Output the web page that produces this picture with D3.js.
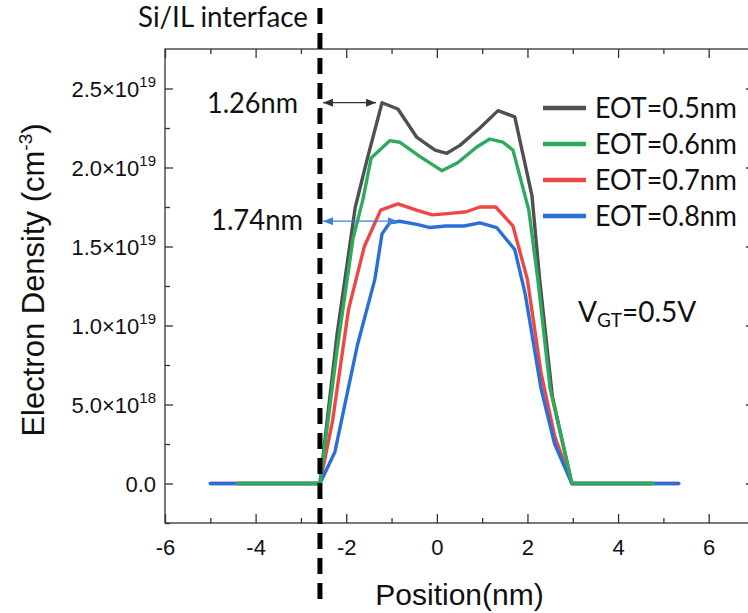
<!DOCTYPE html>
<html>
<head>
<meta charset="utf-8">
<script src="https://cdn.jsdelivr.net/npm/d3@7"></script>
<style>
  html, body { margin: 0; padding: 0; background: #fff; }
  svg { display: block; }
</style>
</head>
<body>
<svg id="chart" width="748" height="613"></svg>
<script>
// ---- data: electron density profile across the channel (position nm, density cm^-3)
const seriesNames  = ["EOT=0.5nm", "EOT=0.6nm", "EOT=0.7nm", "EOT=0.8nm"];
const seriesColors = ["#505050", "#2eaa5c", "#ef4646", "#2a6fd8"];

const eot05 = [[-4.4,0],[-2.58,0],[-2.2,0.95e19],[-1.8,1.75e19],[-1.54,2.05e19],[-1.21,2.41e19],
  [-0.86,2.37e19],[-0.44,2.19e19],[-0.04,2.11e19],[0.22,2.09e19],[0.51,2.14e19],[0.95,2.25e19],
  [1.35,2.36e19],[1.72,2.32e19],[2.10,1.82e19],[2.27,1.29e19],[2.55,0.55e19],[2.98,0],[4.77,0]];
const eot06 = [[-4.4,0],[-2.58,0],[-2.2,0.85e19],[-1.85,1.55e19],[-1.63,1.80e19],[-1.45,2.06e19],
  [-1.04,2.17e19],[-0.82,2.16e19],[-0.38,2.07e19],[0.11,1.98e19],[0.46,2.03e19],[0.88,2.13e19],
  [1.17,2.18e19],[1.46,2.16e19],[1.68,2.11e19],[2.03,1.73e19],[2.23,1.29e19],[2.5,0.6e19],[2.98,0],[4.77,0]];
const eot07 = [[-5.0,0],[-2.58,0],[-2.3,0.4e19],[-1.95,1.1e19],[-1.6,1.5e19],[-1.24,1.73e19],
  [-0.86,1.77e19],[-0.45,1.73e19],[-0.1,1.70e19],[0.3,1.71e19],[0.65,1.72e19],[0.95,1.75e19],
  [1.3,1.75e19],[1.68,1.63e19],[2.0,1.29e19],[2.3,0.7e19],[2.6,0.3e19],[2.98,0],[5.34,0]];
const eot08 = [[-5.0,0],[-2.58,0],[-2.25,0.2e19],[-1.75,0.88e19],[-1.37,1.29e19],[-1.21,1.58e19],
  [-1.04,1.65e19],[-0.82,1.66e19],[-0.44,1.64e19],[-0.15,1.62e19],[0.2,1.63e19],[0.6,1.63e19],
  [0.95,1.65e19],[1.32,1.62e19],[1.72,1.48e19],[1.95,1.2e19],[2.3,0.6e19],[2.6,0.25e19],[2.98,0],[5.34,0]];
const seriesData = [eot05, eot06, eot07, eot08];
const drawOrder = [0, 2, 3, 1];

// axis ticks
const xMajor = [-6, -4, -2, 0, 2, 4, 6];
const xMinor = [-5, -3, -1, 1, 3, 5, 7];
const yMajor = [0, 5e18, 1e19, 1.5e19, 2e19, 2.5e19];
const yMinor = [-2.5e18, 2.5e18, 7.5e18, 1.25e19, 1.75e19, 2.25e19];
const yTickMant = ["0.0", "5.0", "1.0", "1.5", "2.0", "2.5"];
const yTickExp  = [null, "18", "19", "19", "19", "19"];

// annotations
const interfacePos = -2.58;
const peakShift05 = 1.26, peakDens05 = 2.41e19;
const peakShift08 = 1.74, peakDens08 = 1.66e19;

// ---- drawing
const ARIAL = "'Liberation Sans', Arial, sans-serif";
const CALI  = "Lato, 'Open Sans', sans-serif";
const svg = d3.select("#chart");
const X0 = 165, X1 = 754, Y0 = 49, Y1 = 523;

const x = d3.scaleLinear().domain([-6, 7]).range([X0, X1]);
const y = d3.scaleLinear().domain([-2.5e18, 2.75e19]).range([Y1, Y0]);

const axisColor = "#333";
function styleAxis(g) {
  g.select(".domain").remove();
  g.selectAll(".tick line").attr("stroke", axisColor).attr("stroke-width", 1.3);
}

// bottom axis with labels
svg.append("g").attr("transform", `translate(0,${Y1})`)
  .call(d3.axisBottom(x).tickValues(xMajor).tickSize(-9).tickPadding(16).tickFormat(d => String(d)))
  .call(styleAxis)
  .call(g => g.selectAll("text").attr("font-family", ARIAL).attr("font-size", 22).attr("fill", "#111"));
svg.append("g").attr("transform", `translate(0,${Y1})`)
  .call(d3.axisBottom(x).tickValues(xMinor).tickSize(-5).tickFormat(""))
  .call(styleAxis);
// top axis (mirror)
svg.append("g").attr("transform", `translate(0,${Y0})`)
  .call(d3.axisTop(x).tickValues(xMajor).tickSize(-9).tickFormat(""))
  .call(styleAxis);
svg.append("g").attr("transform", `translate(0,${Y0})`)
  .call(d3.axisTop(x).tickValues(xMinor).tickSize(-5).tickFormat(""))
  .call(styleAxis);
// left axis
svg.append("g").attr("transform", `translate(${X0},0)`)
  .call(d3.axisLeft(y).tickValues(yMajor).tickSize(-8).tickFormat(""))
  .call(styleAxis);
svg.append("g").attr("transform", `translate(${X0},0)`)
  .call(d3.axisLeft(y).tickValues(yMinor).tickSize(-5).tickFormat(""))
  .call(styleAxis);
// right axis (mirror)
svg.append("g").attr("transform", `translate(${X1},0)`)
  .call(d3.axisRight(y).tickValues(yMajor).tickSize(-8).tickFormat(""))
  .call(styleAxis);
svg.append("g").attr("transform", `translate(${X1},0)`)
  .call(d3.axisRight(y).tickValues(yMinor).tickSize(-5).tickFormat(""))
  .call(styleAxis);

// y tick labels in a×10^b form
yMajor.forEach((v, i) => {
  const t = svg.append("text")
    .attr("x", X0 - 9).attr("y", y(v) + 8)
    .attr("text-anchor", "end")
    .attr("font-family", ARIAL).attr("font-size", 22).attr("fill", "#111");
  if (yTickExp[i]) {
    t.append("tspan").text(yTickMant[i] + "×10");
    t.append("tspan").attr("font-size", 15).attr("dy", -10).text(yTickExp[i]);
  } else {
    t.text(yTickMant[i]);
  }
});

// frame
svg.append("rect").attr("x", X0).attr("y", Y0)
  .attr("width", X1 - X0).attr("height", Y1 - Y0)
  .attr("fill", "none").attr("stroke", axisColor).attr("stroke-width", 1.3);

// axis titles
svg.append("text")
  .attr("x", (X0 + X1) / 2).attr("y", 605)
  .attr("text-anchor", "middle")
  .attr("font-family", ARIAL).attr("font-size", 30).attr("fill", "#111")
  .text("Position(nm)");

const yTitle = svg.append("text")
  .attr("transform", `translate(44,${(Y0 + Y1) / 2 - 6}) rotate(-90)`)
  .attr("text-anchor", "middle")
  .attr("font-family", ARIAL).attr("font-size", 31).attr("fill", "#111");
yTitle.append("tspan").text("Electron Density (cm");
yTitle.append("tspan").attr("font-size", 19).attr("dy", -12).text("-3");
yTitle.append("tspan").attr("dy", 12).text(")");

// curves
const line = d3.line().x(d => x(d[0])).y(d => y(d[1]));
drawOrder.forEach(i => {
  svg.append("path").datum(seriesData[i])
    .attr("d", line)
    .attr("fill", "none")
    .attr("stroke", seriesColors[i])
    .attr("stroke-width", 3.4)
    .attr("stroke-linejoin", "round")
    .attr("stroke-linecap", "round");
});

// Si/IL interface marker
svg.append("line")
  .attr("x1", x(interfacePos)).attr("x2", x(interfacePos))
  .attr("y1", 8).attr("y2", 600)
  .attr("stroke", "#000").attr("stroke-width", 5)
  .attr("stroke-dasharray", "16,9");
svg.append("text")
  .attr("x", 138).attr("y", 27)
  .attr("font-family", CALI).attr("font-size", 28).attr("fill", "#111")
  .attr("textLength", 170).attr("lengthAdjust", "spacingAndGlyphs")
  .text("Si/IL interface");

// peak-distance arrows
const defs = svg.append("defs");
function marker(id, color) {
  const m = defs.append("marker").attr("id", id)
    .attr("viewBox", "0 0 10 8").attr("refX", 10).attr("refY", 4)
    .attr("markerWidth", 10).attr("markerHeight", 8)
    .attr("markerUnits", "userSpaceOnUse").attr("orient", "auto-start-reverse");
  m.append("path").attr("d", "M0,0 L10,4 L0,8 Z").attr("fill", color);
}
marker("arrK", "#333");
marker("arrB", "#3a80e0");

function arrow(shift, dens, color, id) {
  svg.append("line")
    .attr("x1", x(interfacePos) + 3).attr("x2", x(interfacePos + shift) - 1)
    .attr("y1", y(dens)).attr("y2", y(dens))
    .attr("stroke", color).attr("stroke-width", 1.3)
    .attr("marker-start", `url(#${id})`).attr("marker-end", `url(#${id})`);
}
arrow(peakShift05, peakDens05, "#333", "arrK");
arrow(peakShift08, peakDens08, "#3a80e0", "arrB");

svg.append("text")
  .attr("x", 207).attr("y", y(peakDens05) + 10)
  .attr("font-family", CALI).attr("font-size", 28).attr("fill", "#111")
  .attr("textLength", 91).attr("lengthAdjust", "spacingAndGlyphs")
  .text(peakShift05.toFixed(2) + "nm");
svg.append("text")
  .attr("x", 211).attr("y", y(peakDens08) + 9)
  .attr("font-family", CALI).attr("font-size", 28).attr("fill", "#111")
  .attr("textLength", 92).attr("lengthAdjust", "spacingAndGlyphs")
  .text(peakShift08.toFixed(2) + "nm");

// legend
seriesNames.forEach((name, i) => {
  const ry = 108 + i * 36;
  svg.append("line")
    .attr("x1", 543).attr("x2", 586).attr("y1", ry).attr("y2", ry)
    .attr("stroke", seriesColors[i]).attr("stroke-width", 4.5);
  svg.append("text")
    .attr("x", 595).attr("y", ry + 10)
    .attr("font-family", CALI).attr("font-size", 28).attr("fill", "#111")
    .attr("textLength", 142).attr("lengthAdjust", "spacingAndGlyphs")
    .text(name);
});

// gate overdrive note
const vg = svg.append("text")
  .attr("x", 578).attr("y", 322)
  .attr("font-family", CALI).attr("font-size", 28).attr("fill", "#111");
vg.append("tspan").text("V");
vg.append("tspan").attr("font-size", 19).attr("dy", 5).text("GT");
vg.append("tspan").attr("dy", -5).text("=0.5V");
</script>
</body>
</html>
